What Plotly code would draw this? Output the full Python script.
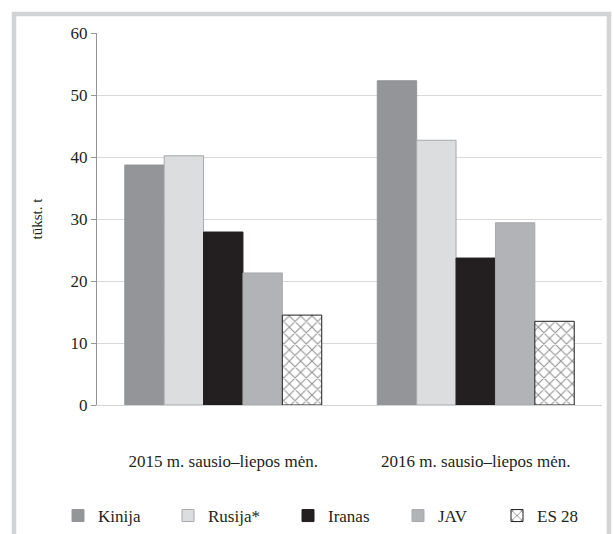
import plotly.graph_objects as go

categories = ["2015 m. sausio–liepos mėn.", "2016 m. sausio–liepos mėn."]
series_names = ["Kinija", "Rusija*", "Iranas", "JAV", "ES 28"]
kinija = [38.7, 52.3]
rusija = [40.2, 42.7]
iranas = [27.9, 23.7]
jav = [21.3, 29.4]
es28 = [14.5, 13.5]
y_ticks = [0, 10, 20, 30, 40, 50, 60]

values = [kinija, rusija, iranas, jav, es28]
fills = ["#939598", "#dcdddf", "#231f20", "#b1b3b6", "#ffffff"]
lines = ["#939598", "#a7a9ac", "#231f20", "#a7a9ac", "#231f20"]
legend_ids = ["legend", "legend2", "legend3", "legend4", "legend5"]
legend_x_px = [58, 168, 288, 398, 497]

FONT = "Liberation Serif"
fig = go.Figure()
for name, vals, fc, lc, lid in zip(series_names, values, fills, lines, legend_ids):
    marker = dict(color=fc, line=dict(color=lc, width=1))
    if name == "ES 28":
        marker["pattern"] = dict(shape="x", fgcolor="#231f20", bgcolor="#ffffff", size=8, solidity=0.25)
    fig.add_trace(go.Bar(name=name, x=categories, y=vals, marker=marker, legend=lid))

legend_common = dict(orientation="h", xref="container", yref="container",
                     xanchor="left", y=(534 - 516) / 534, yanchor="middle",
                     font=dict(family=FONT, size=17, color="#231f20"),
                     itemwidth=30, bgcolor="rgba(0,0,0,0)")
legends = {lid: dict(legend_common, x=px / 614) for lid, px in zip(legend_ids, legend_x_px)}

fig.update_layout(
    width=614, height=534,
    margin=dict(l=97, r=12, t=33, b=129, autoexpand=False),
    paper_bgcolor="white", plot_bgcolor="white",
    barmode="group", bargap=0.22, bargroupgap=0,
    font=dict(family=FONT, size=15, color="#231f20"),
    showlegend=True,
    shapes=[dict(type="rect", xref="paper", yref="paper",
                 x0=(14 - 97) / 505, x1=(609 - 97) / 505,
                 y0=(405 - 560) / 372, y1=(405 - 14) / 372,
                 line=dict(color="#d1d3d4", width=4.5), fillcolor="rgba(0,0,0,0)",
                 layer="above")],
    **legends,
)
fig.update_yaxes(range=[0, 60], tickvals=y_ticks, showgrid=True, gridcolor="#d9d9d9", gridwidth=1,
                 showline=True, linecolor="#939598", linewidth=1, ticks="outside", ticklen=5,
                 tickcolor="#939598", zeroline=False,
                 title=dict(text="tūkst. t", font=dict(family=FONT, size=15), standoff=24),
                 tickfont=dict(family=FONT, size=17))
fig.update_xaxes(showline=True, linecolor="#d1d3d4", linewidth=1, ticks="", ticklabelstandoff=41,
                 tickfont=dict(family=FONT, size=17))

fig.write_html("out.html", config={"displayModeBar": False},
               post_script="document.body.style.margin='0';document.body.style.overflow='hidden';")
